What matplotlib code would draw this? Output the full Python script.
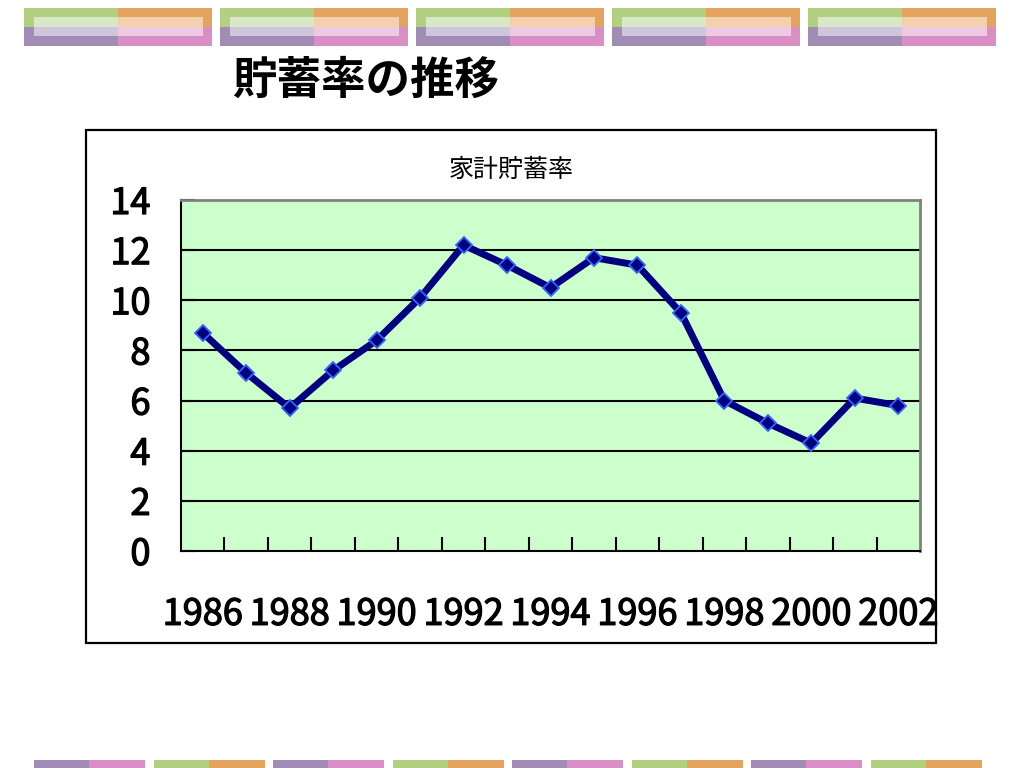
import matplotlib
matplotlib.use("Agg")
import matplotlib.pyplot as plt
from matplotlib.patches import Rectangle
import matplotlib.patheffects as pe
import numpy as np

plt.rcParams['font.family'] = ['Noto Sans CJK JP', 'DejaVu Sans']

years = list(range(1986, 2003))
rates = [8.7, 7.1, 5.7, 7.2, 8.4, 10.1, 12.2, 11.4, 10.5, 11.7, 11.4, 9.5, 6.0, 5.1, 4.3, 6.1, 5.8]
year_labels = [str(y) if (y - 1986) % 2 == 0 else "" for y in years]
y_ticks = [0, 2, 4, 6, 8, 10, 12, 14]
slide_title = "貯蓄率の推移"
chart_title = "家計貯蓄率"

W, H = 1024, 768
fig = plt.figure(figsize=(W / 100, H / 100), dpi=100)

def fx(x):
    return x / W

def fy(y):
    return 1 - y / H

# decorative bars (top)
green, orange, purple, pink = "#b3cf80", "#e5a35e", "#a08cb4", "#d98fc6"
lgreen, lorange, lpurple, lpink = "#d8e8c6", "#f2d0ab", "#cfc6de", "#edc9e4"
for i in range(5):
    x0 = 24 + i * 196
    w = 188
    half = 94
    for (xx, yy, ww, hh, c) in [
        (x0, 8, half, 19, green), (x0 + half, 8, w - half, 19, orange),
        (x0, 27, half, 19, purple), (x0 + half, 27, w - half, 19, pink),
        (x0 + 10, 17, half - 10, 10, lgreen), (x0 + half, 17, w - half - 9, 10, lorange),
        (x0 + 10, 27, half - 10, 9, lpurple), (x0 + half, 27, w - half - 9, 9, lpink),
    ]:
        fig.patches.append(Rectangle((fx(xx), fy(yy + hh)), ww / W, hh / H,
                                     transform=fig.transFigure, color=c, lw=0))

# decorative bars (bottom)
for i in range(8):
    x0 = 34 + i * 119.5
    if i % 2 == 0:
        c1, c2 = purple, pink
    else:
        c1, c2 = green, orange
    fig.patches.append(Rectangle((fx(x0), fy(768)), 55 / W, 8 / H,
                                 transform=fig.transFigure, color=c1, lw=0))
    fig.patches.append(Rectangle((fx(x0 + 55), fy(768)), 56 / W, 8 / H,
                                 transform=fig.transFigure, color=c2, lw=0))

# chart frame
fig.patches.append(Rectangle((fx(86), fy(643)), 850 / W, 513 / H,
                             transform=fig.transFigure, fill=False,
                             edgecolor="black", lw=1.6))

fig.text(fx(366), fy(81), slide_title, ha="center", va="center",
         fontsize=32, fontweight="bold", color="black")

tick_font = dict(size=26)
thick = [pe.withStroke(linewidth=0.9, foreground="black")]

ax = fig.add_axes([fx(181), fy(551), (920 - 181) / W, (551 - 200) / H])
ax.set_facecolor("#ccffcc")
x = np.arange(len(years))
ax.plot(x, rates, color="#000080", lw=5, marker="D", markersize=8,
        markerfacecolor="#000080", markeredgecolor="#3366ff", markeredgewidth=1.3,
        solid_joinstyle="round", zorder=3)
ax.set_xlim(-0.5, len(years) - 0.5)
ax.set_ylim(0, 14)
ax.set_yticks(y_ticks)
ax.set_yticklabels([str(v) for v in y_ticks], fontdict=tick_font)
ax.set_xticks(x)
ax.set_xticklabels(year_labels, fontdict=tick_font)
for t in ax.get_xticklabels() + ax.get_yticklabels():
    t.set_path_effects(thick)
ax.set_xticks(np.arange(0.5, len(years) - 1, 1.0), minor=True)
ax.tick_params(axis="x", which="major", length=0, pad=33)
ax.tick_params(axis="x", which="minor", direction="in", length=10, width=1.5)
ax.tick_params(axis="y", direction="in", length=10, width=1.5, pad=22)
for v in y_ticks[1:-1]:
    ax.axhline(v, color="black", lw=1.5, zorder=1)
ax.spines["left"].set_linewidth(1.5)
ax.spines["bottom"].set_linewidth(1.5)
ax.spines["top"].set_color("#808080")
ax.spines["right"].set_color("#808080")
ax.spines["top"].set_linewidth(2)
ax.spines["right"].set_linewidth(2)

fig.text(fx(511), fy(170), chart_title, ha="center", va="center", fontsize=18)

fig.savefig("out.png", dpi=100)
